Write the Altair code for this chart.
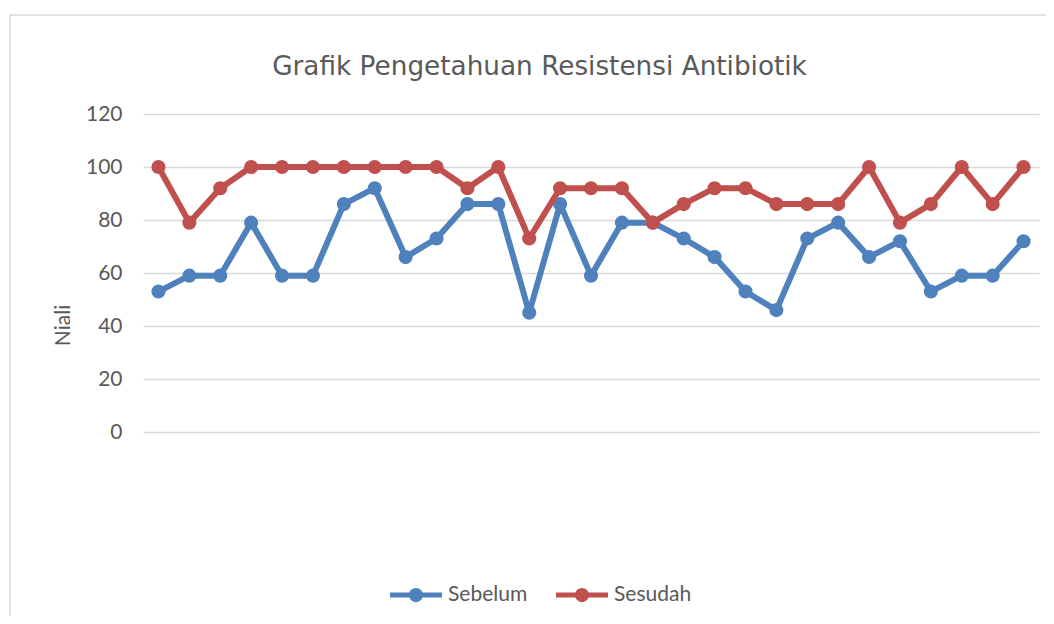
import altair as alt
import pandas as pd

categories = list(range(1, 30))
sebelum = [53, 59, 59, 79, 59, 59, 86, 92, 66, 73, 86, 86, 45, 86, 59,
           79, 79, 73, 66, 53, 46, 73, 79, 66, 72, 53, 59, 59, 72]
sesudah = [100, 79, 92, 100, 100, 100, 100, 100, 100, 100, 92, 100, 73, 92, 92,
           92, 79, 86, 92, 92, 86, 86, 86, 100, 79, 86, 100, 86, 100]
series_names = ["Sebelum", "Sesudah"]
series_colors = ["#4F81BD", "#C0504D"]
y_ticks = [0, 20, 40, 60, 80, 100, 120]
chart_title = "Grafik Pengetahuan Resistensi Antibiotik"

rows = []
for name, vals in zip(series_names, [sebelum, sesudah]):
    for c, v in zip(categories, vals):
        rows.append({"idx": c, "nilai": v, "series": name})
df = pd.DataFrame(rows)

FONT = "Lato"
TXT = "#595959"

x_enc = alt.X("idx:O", scale=alt.Scale(type="point", padding=0.5, domain=categories), axis=None)
y_enc = alt.Y(
    "nilai:Q",
    scale=alt.Scale(domain=[0, 120], nice=False, zero=True),
    axis=alt.Axis(
        values=y_ticks, grid=True, gridColor="#D9D9D9", gridWidth=1.3,
        domain=False, ticks=False, labelPadding=21,
        labelFont=FONT, labelFontSize=21, labelColor=TXT,
        title="Niali", titleFont=FONT, titleFontSize=21, titleColor=TXT,
        titleFontWeight="normal", titleX=-80, titleY=211, titleAngle=270,
        titleAlign="center", titleBaseline="middle",
    ),
)

legend_symbol = ("M-1,-0.1 L-0.25,-0.1 L-0.25,0.1 L-1,0.1 Z "
                 "M0.25,-0.1 L1,-0.1 L1,0.1 L0.25,0.1 Z "
                 "M0.27,0 A0.27,0.27 0 1,1 -0.27,0 A0.27,0.27 0 1,1 0.27,0 Z")

color_scale = alt.Scale(domain=series_names, range=series_colors)
legend_def = alt.Legend(
    title=None, orient="none", direction="horizontal",
    legendX=247, legendY=455,
    symbolType=legend_symbol, symbolSize=2704, symbolStrokeWidth=0,
    labelFont=FONT, labelFontSize=21, labelColor=TXT,
    labelOffset=6, columnPadding=28,
)

one = pd.DataFrame({"t": [chart_title]})
frame = alt.Chart(one).mark_rect(
    fill=None, stroke="#D9D9D9", strokeWidth=1.5
).encode(
    x=alt.value(-133), x2=alt.value(930), y=alt.value(-99), y2=alt.value(520)
)
title_mark = alt.Chart(one).mark_text(
    font="DejaVu Sans", fontSize=26.3, color=TXT, align="center", baseline="alphabetic"
).encode(text="t:N", x=alt.value(396.5), y=alt.value(-39))

layers = [frame, title_mark]
for name in series_names:
    base = alt.Chart(df).transform_filter(alt.datum.series == name)
    line = base.mark_line(strokeWidth=6, strokeJoin="round").encode(
        x=x_enc, y=y_enc,
        color=alt.Color("series:N", scale=color_scale, legend=legend_def),
    )
    pts = base.mark_point(filled=True, size=200, shape="circle", opacity=1).encode(
        x=x_enc, y=y_enc,
        color=alt.Color("series:N", scale=color_scale, legend=legend_def),
    )
    layers += [line, pts]

chart = alt.layer(*layers).properties(
    width=896, height=318,
    autosize=alt.AutoSizeParams(type="none"),
    padding={"left": 135, "top": 106, "right": 7, "bottom": 184},
).configure_view(stroke=None)

chart.save("out.html", embed_options={"renderer": "svg", "actions": False})
